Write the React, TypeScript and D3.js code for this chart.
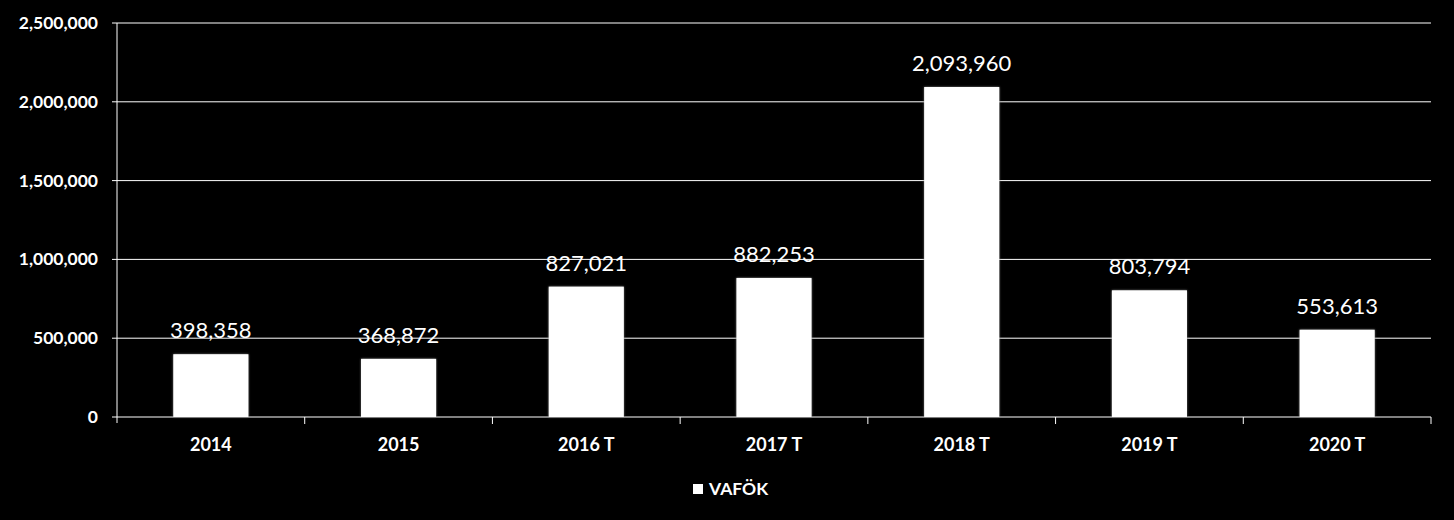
import React from "react";
import * as d3 from "d3";

const categories = ["2014", "2015", "2016 T", "2017 T", "2018 T", "2019 T", "2020 T"];
const values = [398358, 368872, 827021, 882253, 2093960, 803794, 553613];
const yTicks = [0, 500000, 1000000, 1500000, 2000000, 2500000];
const seriesName = "VAFÖK";

export default function App() {
  const W = 1454, H = 520;
  const left = 117, right = 1431, top = 23, bottom = 417;
  const x = d3.scaleBand<string>().domain(categories).range([left, right]).paddingInner(0.6).paddingOuter(0.3);
  const band = d3.scaleBand<string>().domain(categories).range([left, right]);
  const y = d3.scaleLinear().domain([0, 2500000]).range([bottom, top]);
  const fmt = d3.format(",");
  const font = "Lato, 'Open Sans', sans-serif";
  return (
    <svg width={W} height={H} style={{ position: "absolute", left: 0, top: 0, background: "#000" }}>
      <defs>
        <filter id="glow" x="-5%" y="-5%" width="110%" height="110%">
          <feGaussianBlur in="SourceAlpha" stdDeviation="1.2" result="blur" />
          <feFlood floodColor="#777" result="col" />
          <feComposite operator="in" in="col" in2="blur" result="shadow" />
          <feMerge>
            <feMergeNode in="shadow" />
            <feMergeNode in="SourceGraphic" />
          </feMerge>
        </filter>
      </defs>
      <rect x={0} y={0} width={W} height={H} fill="#000" />
      {yTicks.map((t) => (
        <g key={t}>
          <line x1={left - 5} x2={right} y1={y(t)} y2={y(t)} stroke="#fff" strokeWidth={1} />
          <text x={98} y={y(t) + 6} textAnchor="end" fill="#fff" fontFamily={font} fontWeight="bold" fontSize={17.5}>
            {fmt(t)}
          </text>
        </g>
      ))}
      <line x1={left} x2={left} y1={top} y2={bottom + 6} stroke="#fff" strokeWidth={1} />
      {categories.map((c) => (
        <line key={"t" + c} x1={(band(c) as number) + band.bandwidth()} x2={(band(c) as number) + band.bandwidth()} y1={bottom} y2={bottom + 7} stroke="#fff" strokeWidth={1} />
      ))}
      {categories.map((c, i) => (
        <g key={c}>
          <rect x={x(c)} y={y(values[i])} width={x.bandwidth()} height={bottom - y(values[i])} fill="#fff" filter="url(#glow)" />
          <text x={(x(c) as number) + x.bandwidth() / 2} y={y(values[i]) - 16} textAnchor="middle" fill="#fff" fontFamily={font} fontSize={22}>
            {fmt(values[i])}
          </text>
          <text x={(x(c) as number) + x.bandwidth() / 2} y={451} textAnchor="middle" fill="#fff" fontFamily={font} fontWeight="bold" fontSize={18}>
            {c}
          </text>
        </g>
      ))}
      <rect x={693} y={484} width={10} height={10} fill="#fff" />
      <text x={709} y={495} fill="#fff" fontFamily={font} fontWeight="bold" fontSize={17.5}>
        {seriesName}
      </text>
    </svg>
  );
}
